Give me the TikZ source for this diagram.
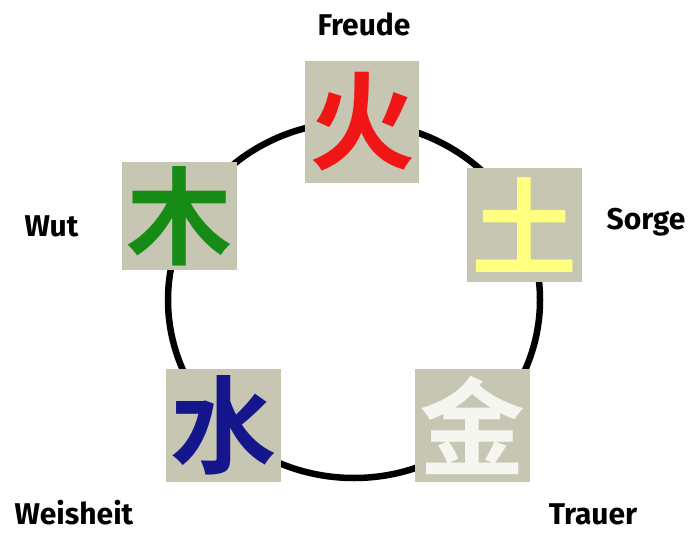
\documentclass[tikz,border=0pt]{standalone}
\usepackage{fontspec}
\setmainfont{Fira Sans}
\newfontfamily\cjk{Noto Sans CJK SC}[BoldFont={Noto Sans CJK SC Bold}]
\definecolor{tilebg}{RGB}{198,198,178}
\definecolor{firered}{RGB}{240,22,22}
\definecolor{woodgreen}{RGB}{22,140,22}
\definecolor{earthyellow}{RGB}{255,255,128}
\definecolor{waterblue}{RGB}{22,22,140}
\definecolor{metalwhite}{RGB}{246,246,240}
\begin{document}
\begin{tikzpicture}[x=1pt,y=-1pt,
  tile/.style={fill=tilebg, inner sep=0pt, minimum width=115pt, minimum height=113pt,
    font=\cjk\bfseries\fontsize{106}{106}\selectfont},
  lbl/.style={font=\bfseries\fontsize{30}{30}\selectfont, anchor=base, inner sep=0pt}]
\useasboundingbox[fill=white] (0,0) rectangle (691,533);
\draw[line width=6.5pt] (354,300) ellipse [x radius=186pt, y radius=178pt];
\node[tile, minimum width=114pt, minimum height=122pt, text=firered] (fire) at (362,122) {火};
\node[tile, minimum height=114pt, text=earthyellow] (earth) at (524.5,225) {土};
\node[tile, minimum height=108pt, text=woodgreen] (wood) at (179.5,216) {木};
\node[tile, text=waterblue] (water) at (223.5,425.5) {水};
\node[tile, text=metalwhite] (metal) at (472.5,425.5) {金};
\node[lbl] (freude) at (364,35) {Freude};
\node[lbl] (sorge) at (646,229) {Sorge};
\node[lbl] (wut) at (51.5,236) {Wut};
\node[lbl] (weisheit) at (74,524) {Weisheit};
\node[lbl] (trauer) at (593,524) {Trauer};
\end{tikzpicture}
\end{document}
